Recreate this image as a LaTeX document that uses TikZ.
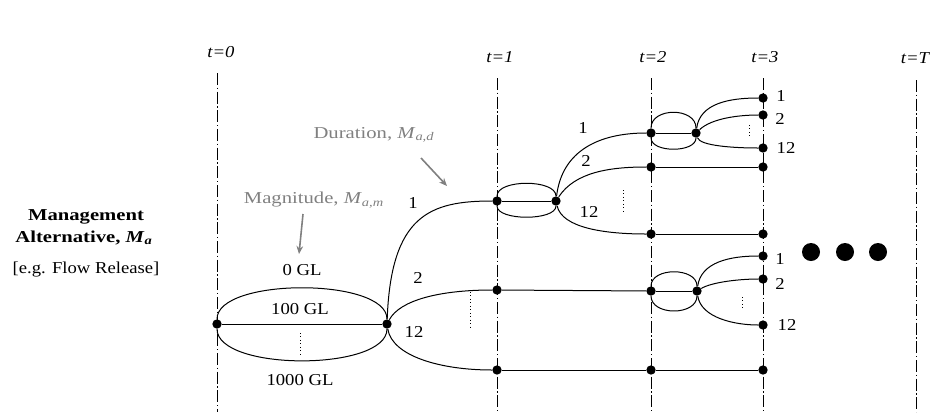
\documentclass[tikz,border=0pt]{standalone}
\usepackage{fontspec}
\setmainfont{Liberation Serif}
\usepackage{graphicx}
\usetikzlibrary{arrows.meta}
\definecolor{annot}{gray}{0.5}
\newcommand{\wx}[1]{\scalebox{1.12}[1]{#1}}
\newcommand{\wb}[1]{\scalebox{1.24}[1]{#1}}
\begin{document}
\begin{tikzpicture}[x=0.75pt,y=-0.75pt,
  dot/.style={circle,fill=black,inner sep=0pt,minimum size=7pt},
  bigdot/.style={circle,fill=black,inner sep=0pt,minimum size=13.5pt},
  timeline/.style={line width=0.5pt,dash pattern=on 9pt off 2pt on 1pt off 2pt},
  edge/.style={line width=0.75pt},
  lbl/.style={inner sep=0pt,font=\fontsize{12.5}{14}\selectfont},
  blbl/.style={inner sep=0pt,font=\fontsize{12.5}{14}\selectfont\bfseries},
  tlbl/.style={inner sep=0pt,font=\fontsize{12.5}{14}\selectfont\itshape},
  note/.style={inner sep=0pt,text=annot,font=\fontsize{12.5}{14}\selectfont},
  pointer/.style={annot,line width=1.2pt,-{Stealth[length=6pt,width=5pt]}},
  ell/.style={dotted,line width=0.6pt}
]
\useasboundingbox (0,0) rectangle (930,415);

% time lines
\foreach \n/\x/\t in {0/217/73,1/497/78,2/651/78,3/763/78,T/916/80}{
  \coordinate (top\n) at (\x,\t);
  \coordinate (bot\n) at (\x,412);
  \draw[timeline] (top\n) -- (bot\n);
}
\node[tlbl] (T0) at (221,52) {\wx{t=0}};
\node[tlbl] (T1) at (500,57) {\wx{t=1}};
\node[tlbl] (T2) at (653,57) {\wx{t=2}};
\node[tlbl] (T3) at (765,57) {\wx{t=3}};
\node[tlbl] (TT) at (915,58) {\wx{t=T}};

% left description
\node[blbl] (mg) at (86,217) {\wb{Management}};
\node[blbl] (alt) at (84,238) {\wb{Alternative, \textit{M}\textsubscript{\textit{a}}}};
\node[lbl] (eg) at (86,270) {\wx{[e.g. Flow Release]}};

% dots
\node[dot] (A0) at (217,324) {};
\node[dot] (B0) at (387,324) {};
\node[dot] (C1) at (497,201) {};
\node[dot] (D1) at (556,201) {};
\node[dot] (C2) at (497,290) {};
\node[dot] (C3) at (497,370) {};
\node[dot] (E1) at (651,133) {};
\node[dot] (F1) at (696,133) {};
\node[dot] (G1) at (651,167) {};
\node[dot] (H1) at (651,234) {};
\node[dot] (E2) at (651,291) {};
\node[dot] (F2) at (697,291) {};
\node[dot] (E3) at (651,370) {};
\node[dot] (K1) at (763,98) {};
\node[dot] (K2) at (763,115) {};
\node[dot] (K12) at (763,148) {};
\node[dot] (L1) at (763,167) {};
\node[dot] (L2) at (763,234) {};
\node[dot] (M1) at (763,256) {};
\node[dot] (M2) at (763,279) {};
\node[dot] (M12) at (763,325) {};
\node[dot] (N1) at (763,370) {};

% magnitude ellipse
\draw[edge] (A0) .. controls +(0,-46.7) and +(0,-46.7) .. (B0);
\draw[edge] (A0) .. controls +(0,47.5) and +(0,47.5) .. (B0);
\draw[edge] (A0) -- (B0);
% duration ellipse at t=1
\draw[edge] (C1) .. controls +(0,-22) and +(0,-22) .. (D1);
\draw[edge] (C1) .. controls +(0,20) and +(0,20) .. (D1);
\draw[edge] (C1) -- (D1);
% t=2 ellipses
\draw[edge] (E1) .. controls +(0,-26) and +(0,-26) .. (F1);
\draw[edge] (E1) .. controls +(0,20) and +(0,20) .. (F1);
\draw[edge] (E1) -- (F1);
\draw[edge] (E2) .. controls +(0,-24) and +(0,-24) .. (F2);
\draw[edge] (E2) .. controls +(0,25) and +(0,25) .. (F2);
\draw[edge] (E2) -- (F2);

% branches from B0
\draw[edge] (B0) .. controls (391,215) and (430,201) .. (C1);
\draw[edge] (B0) .. controls (400,300) and (440,290) .. (C2);
\draw[edge] (B0) .. controls (392,356) and (440,370) .. (C3);
% branches from D1
\draw[edge] (D1) .. controls (562,150) and (600,133) .. (E1);
\draw[edge] (D1) .. controls (575,172) and (610,167) .. (G1);
\draw[edge] (D1) .. controls (562,228) and (605,234) .. (H1);
% branches from F1
\draw[edge] (F1) .. controls (700,103) and (730,98) .. (K1);
\draw[edge] (F1) .. controls (712,118) and (740,115) .. (K2);
\draw[edge] (F1) .. controls (700,146) and (735,148) .. (K12);
% branches from F2
\draw[edge] (F2) .. controls (701,262) and (730,256) .. (M1);
\draw[edge] (F2) .. controls (712,282) and (740,279) .. (M2);
\draw[edge] (F2) .. controls (701,318) and (735,325) .. (M12);
% straight lines
\draw[edge] (G1) -- (L1);
\draw[edge] (H1) -- (L2);
\draw[edge] (C2) -- (E2);
\draw[edge] (C3) -- (E3);
\draw[edge] (E3) -- (N1);

% vertical ellipsis marks
\coordinate (v1a) at (300,333); \coordinate (v1b) at (300,357);
\coordinate (v2a) at (470,292); \coordinate (v2b) at (470,327);
\coordinate (v3a) at (623,190); \coordinate (v3b) at (623,212);
\coordinate (v4a) at (749,125); \coordinate (v4b) at (749,137);
\coordinate (v5a) at (742,297); \coordinate (v5b) at (742,308);
\draw[ell] (v1a) -- (v1b);
\draw[ell] (v2a) -- (v2b);
\draw[ell] (v3a) -- (v3b);
\draw[ell] (v4a) -- (v4b);
\draw[ell] (v5a) -- (v5b);

% magnitude labels
\node[lbl] (gl0) at (302,270) {\wx{0 GL}};
\node[lbl] (gl100) at (300,309) {\wx{100 GL}};
\node[lbl] (gl1000) at (300,380) {\wx{1000 GL}};

% branch labels
\node[lbl] (b1) at (413,203) {\wx{1}};
\node[lbl] (b2) at (418,278) {\wx{2}};
\node[lbl] (b12) at (414,332) {\wx{12}};
\node[lbl] (c1) at (583,128) {\wx{1}};
\node[lbl] (c2) at (586,161) {\wx{2}};
\node[lbl] (c12) at (589,212) {\wx{12}};
\node[lbl] (k1l) at (781,96) {\wx{1}};
\node[lbl] (k2l) at (780,119) {\wx{2}};
\node[lbl] (k12l) at (786,148) {\wx{12}};
\node[lbl] (m1l) at (780,259) {\wx{1}};
\node[lbl] (m2l) at (780,284) {\wx{2}};
\node[lbl] (m12l) at (787,325) {\wx{12}};

% annotations
\node[note] (mag) at (314,200) {\wb{Magnitude, \textit{M}\textsubscript{\textit{a,m}}}};
\coordinate (magA) at (303,214);
\coordinate (magB) at (299,254);
\draw[pointer] (magA) -- (magB);
\node[note] (dur) at (374,135) {\wb{Duration, \textit{M}\textsubscript{\textit{a,d}}}};
\coordinate (durA) at (421,158);
\coordinate (durB) at (447,186);
\draw[pointer] (durA) -- (durB);

% continuation dots
\node[bigdot] (cd1) at (811,252) {};
\node[bigdot] (cd2) at (845,252) {};
\node[bigdot] (cd3) at (878,252) {};
\end{tikzpicture}
\end{document}
